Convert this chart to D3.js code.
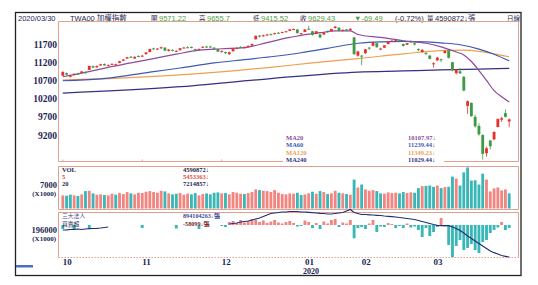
<!DOCTYPE html>
<html><head><meta charset="utf-8">
<script src="https://cdn.jsdelivr.net/npm/d3@7"></script>
<style>body{margin:0;background:#fff}svg{display:block}</style>
</head><body><svg id="c" width="538" height="285"></svg>
<script>
const dates = ["2019/10/01","2019/10/02","2019/10/03","2019/10/04","2019/10/07","2019/10/08","2019/10/09","2019/10/14","2019/10/15","2019/10/16","2019/10/17","2019/10/18","2019/10/21","2019/10/22","2019/10/23","2019/10/24","2019/10/25","2019/10/28","2019/10/29","2019/10/30","2019/10/31",
"2019/11/01","2019/11/04","2019/11/05","2019/11/06","2019/11/07","2019/11/08","2019/11/11","2019/11/12","2019/11/13","2019/11/14","2019/11/15","2019/11/18","2019/11/19","2019/11/20","2019/11/21","2019/11/22","2019/11/25","2019/11/26","2019/11/27","2019/11/28","2019/11/29",
"2019/12/02","2019/12/03","2019/12/04","2019/12/05","2019/12/06","2019/12/09","2019/12/10","2019/12/11","2019/12/12","2019/12/13","2019/12/16","2019/12/17","2019/12/18","2019/12/19","2019/12/20","2019/12/23","2019/12/24","2019/12/25","2019/12/26","2019/12/27","2019/12/30","2019/12/31",
"2020/01/02","2020/01/03","2020/01/06","2020/01/07","2020/01/08","2020/01/09","2020/01/10","2020/01/13","2020/01/14","2020/01/15","2020/01/16","2020/01/17","2020/01/20","2020/01/30","2020/01/31",
"2020/02/03","2020/02/04","2020/02/05","2020/02/06","2020/02/07","2020/02/10","2020/02/11","2020/02/12","2020/02/13","2020/02/14","2020/02/17","2020/02/18","2020/02/19","2020/02/20","2020/02/21","2020/02/24","2020/02/25","2020/02/26","2020/02/27",
"2020/03/02","2020/03/03","2020/03/04","2020/03/05","2020/03/06","2020/03/09","2020/03/10","2020/03/11","2020/03/12","2020/03/13","2020/03/16","2020/03/17","2020/03/18","2020/03/19","2020/03/20","2020/03/23","2020/03/24","2020/03/25","2020/03/26","2020/03/27","2020/03/30"];

const openP = [10830,10900,10800,10860,10890,10900,10930,10990,11090,11060,11110,11150,11100,11140,11130,11180,11240,11300,11350,11300,11370,
11370,11420,11480,11580,11560,11580,11600,11510,11540,11500,11530,11600,11610,11620,11560,11540,11600,11630,11630,11600,11560,
11490,11480,11420,11500,11580,11620,11600,11620,11660,11830,11930,11910,11950,11970,11980,12010,12010,12040,12060,12110,12100,11990,
12030,12120,12050,11980,11960,11960,12050,12050,12140,12150,12060,12100,12080,11880,11380,
11380,11450,11600,11650,11720,11560,11600,11700,11790,11800,11800,11700,11680,11770,11720,11560,11480,11450,11380,
11150,11250,11280,11450,11520,11200,10900,10950,10800,10000,10080,9700,9450,9200,8700,9050,9080,9420,9620,9800,9571.22];
const highP = [10945,10920,10850,10900,10910,10960,10950,11100,11110,11110,11160,11170,11140,11170,11160,11240,11290,11350,11370,11360,11390,
11400,11480,11570,11600,11590,11630,11610,11560,11550,11530,11590,11620,11640,11630,11570,11580,11640,11650,11650,11610,11570,
11530,11490,11490,11580,11610,11640,11630,11660,11710,11930,11950,11960,11980,11990,12010,12030,12040,12060,12110,12130,12110,12010,
12110,12200,12060,12060,11990,12030,12070,12120,12197,12160,12100,12110,12130,11900,11520,
11400,11560,11620,11760,11730,11600,11670,11780,11810,11830,11810,11710,11730,11800,11730,11580,11560,11480,11400,
11200,11350,11300,11520,11530,11210,11010,11040,10820,10150,10100,9760,9520,9220,8880,9060,9300,9650,9700,9900,9655.7];
const lowP = [10820,10840,10780,10840,10860,10890,10880,10985,11040,11050,11100,11100,11090,11130,11110,11170,11230,11290,11320,11290,11340,
11340,11410,11470,11550,11540,11570,11500,11490,11500,11480,11520,11580,11590,11580,11500,11520,11590,11600,11600,11560,11480,
11470,11420,11400,11490,11570,11590,11590,11610,11650,11820,11880,11900,11930,11940,11960,11990,12000,12020,12050,12090,11990,11960,
12020,12090,11930,11970,11860,11950,12010,12040,12120,12040,12040,12050,12070,11400,11350,
11118,11420,11540,11640,11600,11530,11590,11690,11760,11780,11750,11630,11670,11740,11660,11500,11460,11400,11280,
11050,11230,11200,11440,11300,10950,10860,10880,10400,9780,9700,9400,9180,8523,8600,8800,9060,9410,9560,9680,9415.52];
const closeP = [10935,10860,10830,10880,10877,10947,10900,11100,11052,11096,11143,11113,11119,11154,11145,11227,11273,11336,11335,11348,11358,
11380,11467,11562,11571,11573,11610,11519,11549,11525,11512,11584,11603,11605,11595,11530,11564,11625,11621,11617,11574,11489,
11502,11450,11475,11572,11594,11614,11609,11650,11703,11927,11902,11939,11959,11967,12000,12007,12028,12051,12103,12110,11998,11997,
12100,12110,11953,12050,11880,12025,12024,12113,12179,12066,12091,12066,12118,11421,11495,
11354,11555,11574,11749,11612,11574,11664,11774,11791,11815,11763,11648,11725,11758,11686,11534,11540,11433,11292,
11170,11327,11264,11514,11321,10977,11003,10893,10422,10128,9717,9439,9218,8681,8835,8890,9285,9644,9661,9698.92,9629.43];

// volume, thousand 張
const volume = [4000,3900,4200,4000,3800,4300,5300,5400,4600,4200,4300,4100,4000,4500,4200,4700,4400,5000,4600,4300,4800,
4700,5100,5300,5000,4800,5400,5200,4600,4300,4500,4700,4200,4500,4300,4700,4000,4400,4600,4300,4800,4900,
4600,4700,4300,5000,4800,4500,4400,4700,5000,5800,5600,5400,5300,5000,5600,4800,4400,4300,4600,4500,4800,4100,
4300,4600,5100,4500,5300,5000,4400,4600,5400,4800,4600,4400,4200,8800,6400,
7300,5800,5400,5600,5300,4600,4500,4900,4700,4800,4600,5000,4700,4900,4800,6200,6800,6900,7000,
6600,7000,6200,6500,6600,9700,9100,7000,11000,12500,8500,8600,7300,10600,8800,5200,6100,6400,5500,5800,4591];

// 三大法人買賣超 (thousand 張)
const instNet = [-80,null,null,-90,null,null,null,-80,null,null,null,null,null,null,null,null,null,null,null,null,null,
-60,null,null,null,null,null,null,null,null,-70,null,null,null,null,null,-80,null,null,null,null,null,
-20,-40,60,80,40,100,50,80,120,110,60,90,40,70,100,50,30,60,80,40,-30,-20,
90,60,-60,40,-80,70,30,100,120,-40,50,30,100,-266,-60,
-40,-80,30,100,-140,-30,-40,40,20,-60,-20,-60,30,-50,-30,-100,-240,-60,-220,
-140,-40,140,-30,-400,-640,-420,-300,-500,-460,-380,-500,-560,-340,-300,-160,-100,-50,60,-100,-58];

// cumulative (thousand 張)
const instCum = [196400,196480,196610,196700,196820,196610,196820,196950,197030,197120,197250,197460,197670,null,null,null,null,null,null,null,null,
null,null,null,null,null,null,null,null,null,null,null,null,null,null,null,null,null,null,null,null,null,
null,null,198930,199140,199360,199780,199990,200200,200620,201040,201470,202100,202730,203370,203580,203790,204000,204000,204210,204210,204210,204000,
204000,203870,203700,203580,203450,203370,203160,203160,203370,203580,203790,204420,205060,203790,203370,
202940,202940,202820,202730,202610,202520,202310,202180,202060,201890,201680,201470,201260,201040,200830,200410,199990,199570,199140,
198720,198380,198220,198220,198220,197670,197030,196190,195130,193870,192810,191760,190700,189650,188590,187530,186820,186270,185630,185300,185000];

const ma20 = [["2019/10/01",10800],["2019/10/09",10920],["2019/10/21",11060],["2019/10/29",11180],["2019/11/06",11300],["2019/11/14",11420],["2019/11/22",11530],["2019/12/02",11570],["2019/12/10",11600],["2019/12/18",11740],["2019/12/26",11880],["2020/01/02",11960],["2020/01/08",12010],["2020/01/14",12060],["2020/01/20",12060],["2020/01/31",11960],["2020/02/10",11880],["2020/02/18",11790],["2020/02/26",11720],["2020/03/04",11620],["2020/03/10",11480],["2020/03/12",11400],["2020/03/16",11220],["2020/03/18",10970],["2020/03/20",10700],["2020/03/24",10420],["2020/03/26",10250],["2020/03/30",10108]];
const ma60 = [["2019/10/01",10690],["2019/10/17",10740],["2019/10/28",10830],["2019/11/06",10940],["2019/11/15",11040],["2019/11/28",11180],["2019/12/10",11270],["2019/12/19",11350],["2019/12/31",11460],["2020/01/10",11580],["2020/01/31",11720],["2020/02/10",11760],["2020/02/18",11770],["2020/02/26",11760],["2020/03/04",11730],["2020/03/11",11680],["2020/03/18",11560],["2020/03/24",11420],["2020/03/30",11239]];
const ma120 = [["2019/10/01",10710],["2019/10/24",10760],["2019/11/15",10850],["2019/12/05",10960],["2019/12/19",11060],["2020/01/06",11180],["2020/01/31",11300],["2020/02/18",11430],["2020/03/04",11520],["2020/03/12",11530],["2020/03/18",11500],["2020/03/24",11430],["2020/03/30",11349]];
const ma240 = [["2019/10/01",10350],["2019/11/14",10520],["2019/12/19",10750],["2020/01/31",10930],["2020/02/18",10960],["2020/03/04",10990],["2020/03/18",11010],["2020/03/30",11029]];

const priceTicks = [9200,9700,10200,10700,11200,11700];
const volTicks = [7000];
const cumTicks = [196000];
const monthStarts = ["2019/10/01","2019/11/01","2019/12/02","2020/01/02","2020/02/03","2020/03/02"];
const monthLabels = ["10","11","12","01","02","03"];
const maLegend = ["MA20","MA60","MA120","MA240"];
const maLegendVals = ["10107.97↓","11239.44↓","11349.23↓","11029.44↓"];
const volLegend = ["VOL","5","20"];
const volLegendVals = ["4590872↓","5453363↓","7214857↓"];

const C = {up:"#e8312b", down:"#3f9a45", volUp:"#f28580", volDn:"#39b6b6", border:"#e2a08f",
  navy:"#1d1f55", ma20:"#8d4a9c", ma60:"#3d5ab2", ma120:"#eea04f", ma240:"#35307f", green:"#4aa24a"};

const svg = d3.select("#c");
const x = d3.scaleBand().domain(dates).range([61, 511]).paddingInner(0.25).paddingOuter(0.1);
const bw = x.bandwidth();
const cx = d => x(d) + bw / 2;
const yP = d3.scaleLinear().domain([8458, 12332]).range([162, 21]);
const yV = d3.scaleLinear().domain([0, 12780]).range([208.5, 166.5]);
const yN = d3.scaleLinear().domain([-640, 260]).range([257, 212]);
const yC = d3.scaleLinear().domain([185000, 204000]).range([257, 212]);

// outer frame
svg.append("rect").attr("x",15.5).attr("y",12.5).attr("width",505.5).attr("height",263)
  .attr("fill","none").attr("stroke","#222").attr("stroke-width",1.3);

// header
const hdr = svg.append("g").attr("font-family","'Liberation Sans','Noto Sans CJK TC',sans-serif").attr("font-size",7.5);
const hItems = [
  [18,"2020/03/30",C.navy,7.5],[70,"TWA00 加權指數",C.navy,7.5],
  [151,"開",C.navy,6.5],[159,"9571.22",C.green,7.5],
  [199,"高",C.navy,6.5],[207,"9655.7",C.green,7.5],
  [253,"低",C.navy,6.5],[261,"9415.52",C.green,7.5],
  [300,"收",C.navy,6.5],[308,"9629.43",C.green,7.5],
  [354,"▼-69.49",C.green,7.5],[395,"(-0.72%)",C.navy,7.5],
  [427,"量",C.navy,6.5],[435,"4590872↓張",C.navy,7.5],[507,"日線",C.navy,6.5]];
hItems.forEach(h => hdr.append("text").attr("x",h[0]).attr("y",20.5).attr("fill",h[2]).attr("font-size",h[3]).text(h[1]));

// panels
function panel(y0, y1, dashedBottom) {
  const g = svg.append("g").attr("stroke", C.border).attr("fill","none").attr("stroke-width",1);
  g.append("path").attr("d",`M58.5,${y1}V${y0}H518.5V${y1}`);
  g.append("line").attr("x1",58.5).attr("x2",518.5).attr("y1",y1).attr("y2",y1)
    .attr("stroke-dasharray", dashedBottom ? "1.5,1.5" : null);
}
panel(21.5, 161.5, false);
panel(166.5, 209.5, false);
panel(212.5, 257.5, true);

// month ticks
monthStarts.forEach(m => {
  [161.5, 209.5].forEach(yy => svg.append("line").attr("x1",cx(m)).attr("x2",cx(m))
    .attr("y1",yy-2).attr("y2",yy).attr("stroke",C.border));
});

// axes
const axFont = g => g.attr("font-family","'Liberation Serif',serif").attr("font-weight","bold");
const ya = svg.append("g").attr("transform","translate(57,0)")
  .call(d3.axisLeft(yP).tickValues(priceTicks).tickSize(0).tickPadding(0).tickFormat(d3.format("d")));
ya.select(".domain").remove();
ya.selectAll("text").attr("fill",C.navy).attr("font-size",9.5);
axFont(ya);

const va = svg.append("g").attr("transform","translate(57,-1)")
  .call(d3.axisLeft(yV).tickValues(volTicks).tickSize(0).tickPadding(0).tickFormat(d3.format("d")));
va.select(".domain").remove();
va.selectAll("text").attr("fill",C.navy).attr("font-size",8.5);
axFont(va);
svg.append("text").attr("x",56).attr("y",yV(7000)+10.5).attr("text-anchor","end").attr("font-size",7)
  .attr("fill",C.navy).call(axFont).text("(X1000)");

const ca = svg.append("g").attr("transform","translate(57,-1)")
  .call(d3.axisLeft(yC).tickValues(cumTicks).tickSize(0).tickPadding(0).tickFormat(d3.format("d")));
ca.select(".domain").remove();
ca.selectAll("text").attr("fill",C.navy).attr("font-size",8.5);
axFont(ca);
svg.append("text").attr("x",56).attr("y",yC(196000)+10.5).attr("text-anchor","end").attr("font-size",7)
  .attr("fill",C.navy).call(axFont).text("(X1000)");

// x labels
const xl = svg.append("g").call(axFont).attr("font-size",9).attr("fill",C.navy);
monthStarts.forEach((m,i) => xl.append("text").attr("x",cx(m)).attr("y",265).text(monthLabels[i]));
xl.append("text").attr("x",cx("2020/01/02")-2).attr("y",274).attr("font-size",8).text("2020");

// little scrollbar
svg.append("rect").attr("x",16).attr("y",265).attr("width",17).attr("height",2.5).attr("fill","#4a6fc0");

// MA lines
svg.append("clipPath").attr("id","mc").append("rect").attr("x",59).attr("y",22).attr("width",459).attr("height",139);
const gMain = svg.append("g").attr("clip-path","url(#mc)");
const maLine = d3.line().x(d => cx(d[0])).y(d => yP(d[1])).curve(d3.curveMonotoneX);
[[ma240,C.ma240],[ma120,C.ma120],[ma60,C.ma60],[ma20,C.ma20]].forEach(m =>
  gMain.append("path").attr("d",maLine(m[0])).attr("fill","none").attr("stroke",m[1]).attr("stroke-width",1.2));

// candles
dates.forEach((d,i) => {
  const o = openP[i], c = closeP[i], col = c >= o ? C.up : C.down;
  gMain.append("line").attr("x1",cx(d)).attr("x2",cx(d)).attr("y1",yP(highP[i])).attr("y2",yP(lowP[i]))
    .attr("stroke",col).attr("stroke-width",0.8);
  const yt = yP(Math.max(o,c)), yb = yP(Math.min(o,c));
  gMain.append("rect").attr("x",x(d)).attr("width",bw).attr("y",yt).attr("height",Math.max(1,yb-yt)).attr("fill",col);
});

// MA legend
svg.append("rect").attr("x",283).attr("y",133).attr("width",161).attr("height",30).attr("fill","#fff");
const maCols = [C.ma20, C.ma60, C.ma120, C.ma240];
const lg = svg.append("g").attr("font-family","'Liberation Serif',serif").attr("font-size",6.5).attr("font-weight","bold");
maLegend.forEach((t,i) => {
  lg.append("text").attr("x",286).attr("y",140+i*7.3).attr("fill",maCols[i]).text(t);
  lg.append("text").attr("x",408).attr("y",140+i*7.3).attr("fill",maCols[i]).text(maLegendVals[i]);
});

// volume bars
dates.forEach((d,i) => {
  const prev = i > 0 ? closeP[i-1] : openP[i];
  svg.append("rect").attr("x",x(d)).attr("width",bw).attr("y",yV(volume[i]))
    .attr("height",yV(0)-yV(volume[i])).attr("fill", closeP[i] >= prev ? C.volUp : C.volDn);
});
const vg = svg.append("g").attr("font-family","'Liberation Serif',serif").attr("font-size",6.5).attr("font-weight","bold");
const vCols = [C.navy, "#e0503a", C.navy];
volLegend.forEach((t,i) => {
  vg.append("text").attr("x",62).attr("y",172+i*7).attr("fill",vCols[i]).text(t);
  vg.append("text").attr("x",183).attr("y",172+i*7).attr("fill",vCols[i]).text(volLegendVals[i]);
});

// institutional bars
dates.forEach((d,i) => {
  const v = instNet[i];
  if (v == null) return;
  const y0 = yN(0), y1 = yN(v);
  svg.append("rect").attr("x",x(d)).attr("width",bw).attr("y",Math.min(y0,y1))
    .attr("height",Math.max(1,Math.abs(y1-y0))).attr("fill", v >= 0 ? C.volUp : C.volDn);
});
const cumLine = d3.line().defined(d => d[1] != null).x(d => cx(d[0])).y(d => yC(d[1]));
svg.append("path").attr("d", cumLine(dates.map((d,i) => [d, instCum[i]])))
  .attr("fill","none").attr("stroke","#22307a").attr("stroke-width",1.2);
const ig = svg.append("g");
ig.append("text").attr("x",62).attr("y",218).attr("font-size",5.8).attr("fill","#3a4a9a").attr("font-family","'Noto Sans CJK TC',sans-serif").text("三大法人");
ig.append("text").attr("x",62).attr("y",226).attr("font-size",5.8).attr("fill",C.navy).attr("font-family","'Noto Sans CJK TC',sans-serif").text("買賣超");
ig.append("text").attr("x",183).attr("y",218).attr("font-size",6.2).attr("fill","#3a4a9a").attr("font-family","'Liberation Serif','Noto Sans CJK TC',serif").attr("font-weight","bold").text("894104263↓張");
ig.append("text").attr("x",183).attr("y",226).attr("font-size",6.2).attr("fill","#7a1f2a").attr("font-family","'Liberation Serif','Noto Sans CJK TC',serif").attr("font-weight","bold").text("-58099↓張");
</script></body></html>
